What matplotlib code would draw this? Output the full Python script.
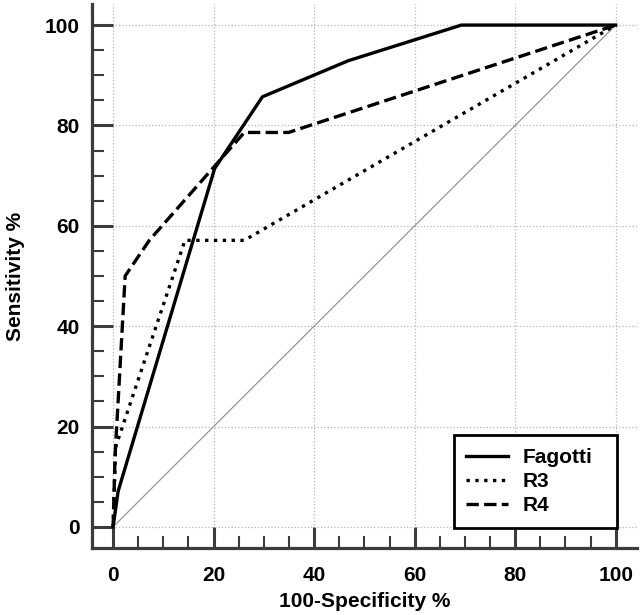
import numpy as np
import matplotlib.pyplot as plt
from matplotlib.ticker import MultipleLocator

plt.rcParams['font.family'] = ['Liberation Sans', 'DejaVu Sans']
plt.rcParams['font.weight'] = 'bold'

# ROC points (100-specificity, sensitivity)
fagotti_x = [0, 1.0, 20.2, 29.7, 46.8, 69.3, 100]
fagotti_y = [0, 7.1, 71.4, 85.7, 92.9, 100, 100]

r3_x = [0, 0.5, 14.3, 26.1, 100]
r3_y = [0, 15.9, 57.1, 57.1, 100]

r4_x = [0, 0.4, 2.4, 7.2, 26.1, 34.9, 100]
r4_y = [0, 14.3, 50.0, 57.1, 78.6, 78.6, 100]

ticks = [0, 20, 40, 60, 80, 100]

fig = plt.figure(figsize=(6.41, 6.15), dpi=100)
ax = fig.add_axes([0.1435, 0.109, 0.85, 0.8845])

ax.plot([0, 100], [0, 100], color='#8a8a8a', lw=0.8, zorder=2)
ax.plot(fagotti_x, fagotti_y, color='black', lw=2.4, ls='-', label='Fagotti', zorder=3)
ax.plot(r3_x, r3_y, color='black', lw=2.4, ls=':', label='R3', zorder=3)
ax.plot(r4_x, r4_y, color='black', lw=2.4, ls='--', label='R4', zorder=3)

ax.set_xlim(-4.2, 104.2)
ax.set_ylim(-4.2, 104.2)
ax.set_xticks(ticks)
ax.set_yticks(ticks)
ax.xaxis.set_minor_locator(MultipleLocator(5))
ax.yaxis.set_minor_locator(MultipleLocator(5))
ax.grid(True, which='major', color='#b5b5b5', ls=':', lw=0.9)
ax.set_axisbelow(True)

for s in ['top', 'right']:
    ax.spines[s].set_visible(False)
for s in ['left', 'bottom']:
    ax.spines[s].set_linewidth(2.3)
    ax.spines[s].set_color('#3c3c3c')

ax.tick_params(which='major', direction='in', length=15, width=2.2, color='#3c3c3c',
               labelsize=15, pad=9)
ax.tick_params(which='minor', direction='in', length=8.5, width=1.5, color='#3c3c3c')
ax.tick_params(axis='x', which='major', pad=13)

ax.set_xlabel('100-Specificity %', fontsize=15, fontweight='bold', labelpad=5)
ax.set_ylabel('Sensitivity %', fontsize=15, fontweight='bold', labelpad=14)

leg = ax.legend(loc='lower left', bbox_to_anchor=(0.664, 0.037, 0.299, 0.17),
                mode='expand', fontsize=15,
                frameon=True, fancybox=False, edgecolor='black', framealpha=1,
                handlelength=2.0, handletextpad=0.7, labelspacing=0.25,
                borderpad=0.6, borderaxespad=0)
leg.get_frame().set_linewidth(2.0)
for t in leg.get_texts():
    t.set_fontweight('bold')

fig.savefig('out.png', dpi=100)
